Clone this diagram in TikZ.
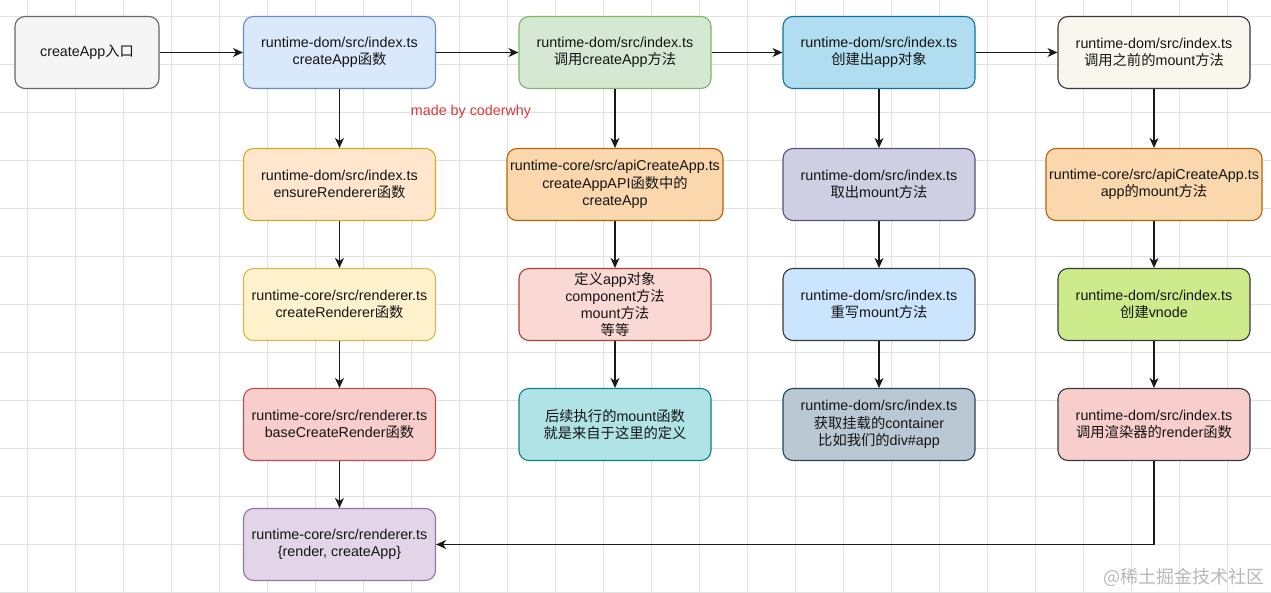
\documentclass[tikz,border=0pt]{standalone}
\usepackage{fontspec}
\setmainfont{Liberation Sans}
\newfontfamily\cjk{Noto Sans CJK SC}
\newcommand\zh[1]{{\cjk #1}}
\usetikzlibrary{arrows.meta}
\definecolor{gridc}{HTML}{E2E2E2}
\definecolor{txt}{HTML}{141414}
\definecolor{fEntry}{HTML}{F5F5F5}\definecolor{dEntry}{HTML}{666666}
\definecolor{fA1}{HTML}{DAE8FC}\definecolor{dA1}{HTML}{6C8EBF}
\definecolor{fA2}{HTML}{D5E8D4}\definecolor{dA2}{HTML}{82B366}
\definecolor{fA3}{HTML}{B1DDF0}\definecolor{dA3}{HTML}{10739E}
\definecolor{fA4}{HTML}{F9F7ED}\definecolor{dDark}{HTML}{36393D}
\definecolor{fB1}{HTML}{FFE6CC}\definecolor{dB1}{HTML}{D6A820}
\definecolor{fB2}{HTML}{FAD7AC}\definecolor{dB2}{HTML}{B46504}
\definecolor{fB3}{HTML}{D0CEE2}\definecolor{dB3}{HTML}{56517E}
\definecolor{fC1}{HTML}{FFF2CC}\definecolor{dC1}{HTML}{D6B656}
\definecolor{fC2}{HTML}{FAD9D5}\definecolor{dC2}{HTML}{AE4132}
\definecolor{fC3}{HTML}{CCE5FF}
\definecolor{fC4}{HTML}{CDEB8B}
\definecolor{fD1}{HTML}{F8CECC}\definecolor{dD1}{HTML}{B85450}
\definecolor{fD2}{HTML}{B0E3E6}\definecolor{dD2}{HTML}{0E8088}
\definecolor{fD3}{HTML}{BAC8D3}\definecolor{dD3}{HTML}{23445D}
\definecolor{fE1}{HTML}{E1D5E7}\definecolor{dE1}{HTML}{9673A6}
\definecolor{sigc}{HTML}{D9393A}
\definecolor{wmc}{HTML}{B8B8B8}
\tikzset{
  box/.style={rectangle, rounded corners=10pt, line width=1.1pt, minimum width=192pt, minimum height=72pt,
    inner sep=0pt, align=center, text=txt, font={\fontsize{14.3}{17.2}\selectfont}},
  wide/.style={minimum width=216pt},
  arr/.style={line width=1.2pt, draw=black!90, -{Stealth[length=10pt,width=9pt,inset=3pt]}},
}
\begin{document}
\begin{tikzpicture}[x=1pt,y=-1pt]
\useasboundingbox (0,0) rectangle (1271,593);
\fill[white] (0,0) rectangle (1271,593);
% grid
\foreach \i in {0,...,26} { \draw[gridc, line width=0.9pt] (27.5+48*\i,0) -- (27.5+48*\i,593); }
\foreach \j in {0,...,12} { \draw[gridc, line width=0.9pt] (0,16+48*\j) -- (1271,16+48*\j); }

% row 1
\node[box, minimum width=144pt, fill=fEntry, draw=dEntry] (entry) at (87,52.5) {createApp\zh{入口}};
\node[box, fill=fA1, draw=dA1] (a1) at (339.5,52.5) {runtime-dom/src/index.ts\\createApp\zh{函数}};
\node[box, fill=fA2, draw=dA2] (a2) at (615,52.5) {runtime-dom/src/index.ts\\\zh{调用}createApp\zh{方法}};
\node[box, fill=fA3, draw=dA3] (a3) at (879,52.5) {runtime-dom/src/index.ts\\\zh{创建出}app\zh{对象}};
\node[box, fill=fA4, draw=dDark] (a4) at (1154,52.5) {runtime-dom/src/index.ts\\\zh{调用之前的}mount\zh{方法}};

% row 2
\node[box, fill=fB1, draw=dB1] (b1) at (339.5,184.5) {runtime-dom/src/index.ts\\ensureRenderer\zh{函数}};
\node[box, wide, fill=fB2, draw=dB2] (b2) at (615,184.5) {runtime-core/src/apiCreateApp.ts\\createAppAPI\zh{函数中的}\\createApp};
\node[box, fill=fB3, draw=dB3] (b3) at (879,184.5) {runtime-dom/src/index.ts\\\zh{取出}mount\zh{方法}};
\node[box, wide, fill=fB2, draw=dB2] (b4) at (1154,184.5) {runtime-core/src/apiCreateApp.ts\\app\zh{的}mount\zh{方法}};

% row 3
\node[box, fill=fC1, draw=dC1] (c1) at (339.5,304.5) {runtime-core/src/renderer.ts\\createRenderer\zh{函数}};
\node[box, fill=fC2, draw=dC2] (c2) at (615,304.5) {\zh{定义}app\zh{对象}\\component\zh{方法}\\mount\zh{方法}\\\zh{等等}};
\node[box, fill=fC3, draw=dDark] (c3) at (879,304.5) {runtime-dom/src/index.ts\\\zh{重写}mount\zh{方法}};
\node[box, fill=fC4, draw=dDark] (c4) at (1154,304.5) {runtime-dom/src/index.ts\\\zh{创建}vnode};

% row 4
\node[box, fill=fD1, draw=dD1] (d1) at (339.5,424.5) {runtime-core/src/renderer.ts\\baseCreateRender\zh{函数}};
\node[box, fill=fD2, draw=dD2] (d2) at (615,424.5) {\zh{后续执行的}mount\zh{函数}\\\zh{就是来自于这里的定义}};
\node[box, fill=fD3, draw=dD3] (d3) at (879,424.5) {runtime-dom/src/index.ts\\\zh{获取挂载的}container\\\zh{比如我们的}div\#app};
\node[box, fill=fD1, draw=dDark] (d4) at (1154,424.5) {runtime-dom/src/index.ts\\\zh{调用渲染器的}render\zh{函数}};

% row 5
\node[box, fill=fE1, draw=dE1] (e1) at (339.5,544.5) {runtime-core/src/renderer.ts\\\{render, createApp\}};

% arrows
\draw[arr] (entry) -- (a1);
\draw[arr] (a1) -- (a2);
\draw[arr] (a2) -- (a3);
\draw[arr] (a3) -- (a4);
\draw[arr] (a1) -- (b1);
\draw[arr] (b1) -- (c1);
\draw[arr] (c1) -- (d1);
\draw[arr] (d1) -- (e1);
\draw[arr] (a2) -- (b2);
\draw[arr] (b2) -- (c2);
\draw[arr] (c2) -- (d2);
\draw[arr] (a3) -- (b3);
\draw[arr] (b3) -- (c3);
\draw[arr] (c3) -- (d3);
\draw[arr] (a4) -- (b4);
\draw[arr] (b4) -- (c4);
\draw[arr] (c4) -- (d4);
\draw[arr] (d4.south) |- (e1.east);

% labels
\node[text=sigc, font={\fontsize{14.3}{17}\selectfont}, inner sep=0pt] (sig) at (471,112) {made by coderwhy};
\node[text=wmc, font={\fontsize{18}{21}\cjk}, inner sep=0pt, anchor=east] (wm) at (1265,577) {@稀土掘金技术社区};
\end{tikzpicture}
\end{document}
